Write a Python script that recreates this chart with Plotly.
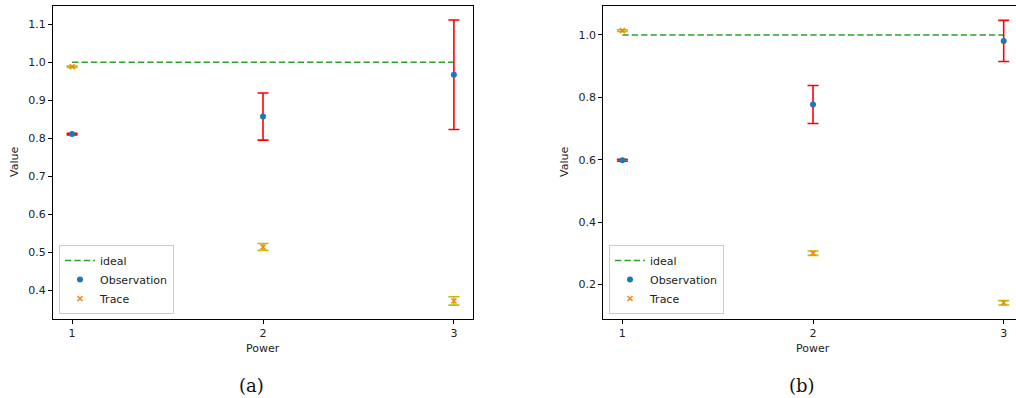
import plotly.graph_objects as go

# ---- data -------------------------------------------------------------
power = [1, 2, 3]

# panel (a)
obs_a = [0.811, 0.857, 0.967]
obs_err_a = [0.002, 0.062, 0.144]
trace_a = [0.988, 0.514, 0.372]
trace_err_a = [0.002, 0.009, 0.011]

# panel (b)
obs_b = [0.598, 0.777, 0.981]
obs_err_b = [0.003, 0.061, 0.066]
trace_b = [1.014, 0.300, 0.141]
trace_err_b = [0.003, 0.007, 0.007]

ideal = [1.0, 1.0, 1.0]

y_ticks_a = [0.4, 0.5, 0.6, 0.7, 0.8, 0.9, 1.0, 1.1]
y_ticks_b = [0.2, 0.4, 0.6, 0.8, 1.0]
panel_labels = ["(a)", "(b)"]

# ---- styling ----------------------------------------------------------
W, H = 1016, 398
FONT = "DejaVu Sans"
BLUE, ORANGE, GREEN = "#1f77b4", "#ff7f0e", "#2ca02c"
RED, OLIVE = "#ff0000", "#bfbf00"


def px(x):
    return x / W


def py(y):
    return 1 - y / H


fig = go.Figure()


def add_panel(xa, ya, legend, obs, obs_err, tr, tr_err):
    fig.add_trace(go.Scatter(
        x=power, y=ideal, mode="lines", name="ideal",
        line=dict(color=GREEN, width=1.5, dash="6.3px,3.1px"),
        xaxis=xa, yaxis=ya, legend=legend))
    fig.add_trace(go.Scatter(
        x=power, y=obs, mode="markers", name="Observation",
        marker=dict(color=BLUE, size=6),
        error_y=dict(type="data", array=obs_err, color=RED,
                     thickness=1.6, width=5.5),
        xaxis=xa, yaxis=ya, legend=legend))
    fig.add_trace(go.Scatter(
        x=power, y=tr, mode="markers", name="Trace",
        marker=dict(symbol="x-thin", size=5, color=ORANGE,
                    line=dict(color=ORANGE, width=1.5)),
        error_y=dict(type="data", array=tr_err, color=OLIVE,
                     thickness=1.6, width=5.5),
        xaxis=xa, yaxis=ya, legend=legend))


add_panel("x", "y", "legend", obs_a, obs_err_a, trace_a, trace_err_a)
add_panel("x2", "y2", "legend2", obs_b, obs_err_b, trace_b, trace_err_b)

axis_common = dict(
    showgrid=False, zeroline=False, showline=True, linecolor="black",
    linewidth=1.2, ticks="outside", ticklen=4, tickwidth=1,
    tickcolor="black", tickfont=dict(family=FONT, size=11, color="#222"),
)

y_top, y_bot = py(6), py(319)

legend_style = dict(
    xanchor="left", yanchor="bottom",
    bgcolor="rgba(255,255,255,0.8)", bordercolor="#cccccc",
    borderwidth=1, font=dict(family=FONT, size=11, color="#222"),
    tracegroupgap=0, itemwidth=30,
)

fig.update_layout(
    width=W, height=H,
    margin=dict(l=0, r=0, t=0, b=0),
    paper_bgcolor="white", plot_bgcolor="white",
    font=dict(family=FONT, size=11, color="#222"),
    xaxis=dict(axis_common, domain=[px(53), px(473)], range=[0.9, 3.1],
               tickvals=power, mirror=True, anchor="y"),
    yaxis=dict(axis_common, domain=[y_bot, y_top], range=[0.3245, 1.148],
               tickvals=y_ticks_a, tickformat=".1f", mirror=True,
               anchor="x"),
    xaxis2=dict(axis_common, domain=[px(603.3), 1.0],
                range=[0.9, 3.0645], tickvals=power, mirror=True,
                anchor="y2"),
    yaxis2=dict(axis_common, domain=[y_bot, y_top], range=[0.089, 1.093],
                tickvals=y_ticks_b, tickformat=".1f", mirror=False,
                anchor="x2"),
    legend=dict(legend_style, x=px(59), y=py(314)),
    legend2=dict(legend_style, x=px(609), y=py(314)),
    showlegend=True,
)

# axis titles and panel captions
ann = []
common_ann = dict(xref="paper", yref="paper", showarrow=False,
                  xanchor="center", yanchor="middle")
for cx in (px(263), px(813)):
    ann.append(dict(common_ann, x=cx, y=py(348.5), text="Power",
                    font=dict(family=FONT, size=11, color="#222")))
for cx in (px(14.5), px(564.5)):
    ann.append(dict(common_ann, x=cx, y=py(162.5), text="Value",
                    textangle=-90,
                    font=dict(family=FONT, size=11, color="#222")))
for cx, lab in zip((px(251), px(802)), panel_labels):
    ann.append(dict(common_ann, x=cx, y=py(385), text=lab,
                    font=dict(family="DejaVu Serif", size=18, color="#111")))
fig.update_layout(annotations=ann)

fig.write_html("out.html")
